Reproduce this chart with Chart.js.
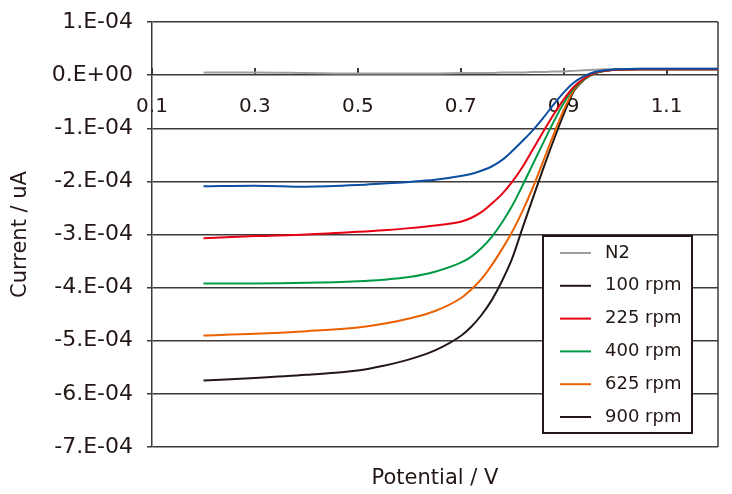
<!DOCTYPE html>
<html>
<head>
<meta charset="utf-8">
<script src="https://cdn.jsdelivr.net/npm/chart.js@4"></script>
<style>
  html, body { margin: 0; padding: 0; background: #fff; }
  #wrap { width: 732px; height: 494px; }
</style>
</head>
<body>
<div id="wrap"><canvas id="rde"></canvas></div>
<script>
// values, current in units of 1e-4 A
const UNIT = 1e-4;
const potential = [0.2, 0.3, 0.4, 0.5, 0.55, 0.6, 0.65, 0.7, 0.72, 0.74, 0.76, 0.78, 0.8, 0.82, 0.84, 0.86, 0.88, 0.9, 0.92, 0.94, 0.96, 0.98, 1.0, 1.05, 1.1, 1.15, 1.2];
const seriesNames = ['N2', '100 rpm', '225 rpm', '400 rpm', '625 rpm', '900 rpm'];
const n2 =     [0.05, 0.05, 0.04, 0.03, 0.03, 0.03, 0.03, 0.04, 0.04, 0.04, 0.04, 0.05, 0.05, 0.05, 0.06, 0.06, 0.07, 0.07, 0.08, 0.09, 0.10, 0.11, 0.11, 0.12, 0.12, 0.12, 0.12];
const rpm100 = [-2.09, -2.08, -2.10, -2.07, -2.04, -2.01, -1.97, -1.90, -1.86, -1.80, -1.72, -1.60, -1.43, -1.24, -1.04, -0.81, -0.56, -0.33, -0.14, -0.02, 0.06, 0.09, 0.11, 0.12, 0.12, 0.12, 0.12];
const rpm225 = [-3.07, -3.03, -3.00, -2.95, -2.92, -2.88, -2.83, -2.76, -2.69, -2.58, -2.42, -2.24, -2.01, -1.73, -1.40, -1.07, -0.75, -0.46, -0.22, -0.06, 0.04, 0.08, 0.10, 0.11, 0.11, 0.11, 0.11];
const rpm400 = [-3.92, -3.92, -3.91, -3.88, -3.85, -3.80, -3.70, -3.53, -3.42, -3.26, -3.05, -2.78, -2.46, -2.08, -1.68, -1.28, -0.89, -0.53, -0.25, -0.08, 0.03, 0.08, 0.10, 0.11, 0.11, 0.11, 0.11];
const rpm625 = [-4.90, -4.87, -4.82, -4.75, -4.68, -4.58, -4.44, -4.20, -4.04, -3.84, -3.58, -3.28, -2.95, -2.56, -2.12, -1.63, -1.13, -0.66, -0.28, -0.08, 0.03, 0.08, 0.10, 0.11, 0.11, 0.11, 0.11];
const rpm900 = [-5.75, -5.70, -5.64, -5.56, -5.47, -5.35, -5.18, -4.91, -4.74, -4.52, -4.24, -3.88, -3.45, -2.88, -2.32, -1.77, -1.24, -0.74, -0.30, -0.08, 0.04, 0.08, 0.10, 0.11, 0.11, 0.11, 0.11];
const xTicks = [0.1, 0.3, 0.5, 0.7, 0.9, 1.1];
const yTicks = [1, 0, -1, -2, -3, -4, -5, -6, -7];

const INK = '#231815';
const GRID = '#3e3a39';
const FONT = '"DejaVu Sans", sans-serif';

function pts(arr) {
  return potential.map((p, i) => ({ x: p, y: arr[i] * UNIT }));
}

function sciLabel(v) {
  // 1e-4 -> 1.E-04, 0 -> 0.E+00
  const m = Math.round(v / UNIT);
  if (m === 0) return '0.E+00';
  return m + '.E-04';
}

const curves = [
  { data: n2, color: '#9d9d9d', swatch: '#9d9d9d', order: 6 },
  { data: rpm100, color: '#0b4ea2', swatch: INK, order: 1 },
  { data: rpm225, color: '#e60012', swatch: '#e60012', order: 2 },
  { data: rpm400, color: '#009944', swatch: '#009944', order: 3 },
  { data: rpm625, color: '#ea6100', swatch: '#ea6100', order: 4 },
  { data: rpm900, color: INK, swatch: INK, order: 5 },
];

// legend box sits inside the plot, lower right
const insideLegend = {
  id: 'insideLegend',
  afterDraw(chart) {
    const ctx = chart.ctx;
    const ca = chart.chartArea;
    const x = ca.right - 175, y = ca.top + 214, w = 149, h = 197;
    ctx.save();
    ctx.fillStyle = '#fff';
    ctx.fillRect(x, y, w, h);
    ctx.strokeStyle = INK;
    ctx.lineWidth = 2;
    ctx.strokeRect(x, y, w, h);
    ctx.font = '18px ' + FONT;
    ctx.textBaseline = 'middle';
    chart.data.datasets.forEach((ds, i) => {
      const ry = y + 17 + i * 32.8;
      ctx.strokeStyle = ds.swatch;
      ctx.lineWidth = 2;
      ctx.beginPath();
      ctx.moveTo(x + 17, ry);
      ctx.lineTo(x + 48, ry);
      ctx.stroke();
      ctx.fillStyle = INK;
      ctx.fillText(ds.label, x + 62, ry);
    });
    ctx.restore();
  }
};

// right edge of the frame
const frame = {
  id: 'frame',
  beforeDatasetsDraw(chart) {
    const ctx = chart.ctx;
    const ca = chart.chartArea;
    ctx.save();
    ctx.strokeStyle = GRID;
    ctx.lineWidth = 1.5;
    ctx.beginPath();
    ctx.moveTo(ca.right, ca.top);
    ctx.lineTo(ca.right, ca.bottom);
    ctx.stroke();
    ctx.restore();
  }
};

new Chart(document.getElementById('rde'), {
  type: 'line',
  data: {
    datasets: curves.map((c, i) => ({
      label: seriesNames[i],
      data: pts(c.data),
      borderColor: c.color,
      swatch: c.swatch,
      borderWidth: 2,
      pointRadius: 0,
      cubicInterpolationMode: 'monotone',
      fill: false,
      order: c.order,
    })),
  },
  options: {
    responsive: true,
    maintainAspectRatio: false,
    animation: false,
    layout: { padding: { left: 0, right: 14, top: 22, bottom: 0 } },
    plugins: {
      legend: { display: false },
      tooltip: { enabled: false },
    },
    scales: {
      x: {
        type: 'linear',
        position: { y: 0 },
        min: 0.1,
        max: 1.2,
        afterBuildTicks: (s) => { s.ticks = xTicks.map(v => ({ value: v })); },
        ticks: {
          color: INK,
          font: { family: FONT, size: 20, weight: 'normal' },
          padding: 27,
          maxRotation: 0,
          autoSkip: false,
          callback: (v) => Number(v).toFixed(1),
        },
        grid: { drawOnChartArea: false, drawTicks: true, tickLength: -7, color: GRID, lineWidth: 2 },
        border: { display: false },
      },
      // carries only the axis title under the plot
      xTitle: {
        type: 'linear',
        position: 'bottom',
        min: 0.1,
        max: 1.2,
        afterFit: (s) => { s.height = 47; },
        ticks: { display: false },
        grid: { display: false, drawTicks: false },
        border: { display: false },
        title: {
          display: true,
          text: 'Potential / V',
          color: INK,
          font: { family: FONT, size: 21, weight: 'normal' },
          padding: { top: 5, bottom: 3 },
        },
      },
      y: {
        min: -7 * UNIT,
        max: 1 * UNIT,
        afterBuildTicks: (s) => { s.ticks = yTicks.map(v => ({ value: v * UNIT })); },
        afterFit: (s) => { s.width = 152; s.paddingTop = 0; s.paddingBottom = 0; },
        ticks: {
          color: INK,
          font: { family: FONT, size: 22, weight: 'normal' },
          padding: 14,
          callback: (v) => sciLabel(v),
        },
        grid: { color: GRID, lineWidth: 1.5, tickLength: 5 },
        border: { display: true, color: GRID, width: 1.5 },
        title: {
          display: true,
          text: 'Current / uA',
          color: INK,
          font: { family: FONT, size: 21, weight: 'normal' },
          padding: { top: 8, bottom: 0 },
        },
      },
    },
  },
  plugins: [frame, insideLegend],
});
</script>
</body>
</html>
